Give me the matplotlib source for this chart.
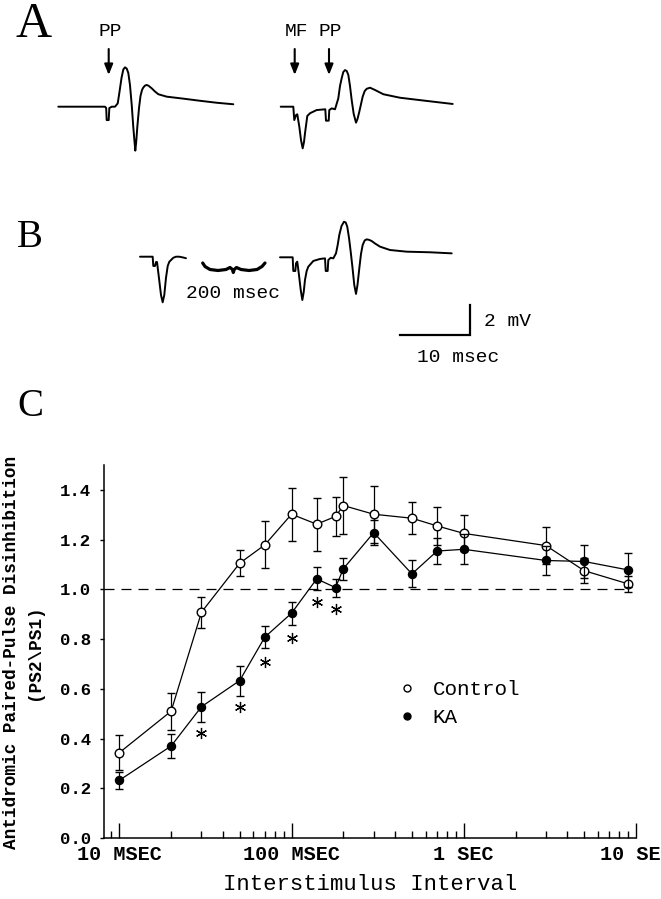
import matplotlib
matplotlib.use("Agg")
import matplotlib.pyplot as plt
from matplotlib.lines import Line2D
from matplotlib.ticker import FixedLocator, NullFormatter
import numpy as np

plt.rcParams['font.family'] = ['Liberation Mono', 'DejaVu Sans Mono']

# ---- panel C data ----
isi_ms = [10, 20, 30, 50, 70, 100, 140, 180, 200, 300, 500, 700, 1000, 3000, 5000, 9000]
control_mean = [0.343, 0.51, 0.908, 1.105, 1.179, 1.302, 1.262, 1.293, 1.337, 1.302,
                1.286, 1.255, 1.225, 1.176, 1.075, 1.022]
control_sem = [0.07, 0.075, 0.062, 0.052, 0.094, 0.107, 0.107, 0.078, 0.115, 0.115,
               0.065, 0.075, 0.072, 0.076, 0.05, 0.033]
ka_mean = [0.232, 0.37, 0.528, 0.633, 0.808, 0.904, 1.042, 1.007, 1.083, 1.228,
           1.062, 1.154, 1.161, 1.116, 1.112, 1.078]
ka_sem = [0.035, 0.05, 0.06, 0.06, 0.045, 0.047, 0.046, 0.036, 0.045, 0.05,
          0.054, 0.053, 0.06, 0.058, 0.067, 0.07]
sig_ms = [30, 50, 70, 100, 140, 180]
sig_y = [0.424, 0.526, 0.706, 0.803, 0.95, 0.921]

xtick_ms = [10, 100, 1000, 10000]
xtick_labels = ["10 MSEC", "100 MSEC", "1 SEC", "10 SEC"]
xminor_ms = [9] + [k * 10 for k in range(2, 10)] + [k * 100 for k in range(2, 10)] + [k * 1000 for k in range(2, 10)]
ytick_vals = [0.0, 0.2, 0.4, 0.6, 0.8, 1.0, 1.2, 1.4]

a1_t = [0, 6.67, 6.84, 6.91, 7.20, 7.29, 7.63, 8.10, 8.49, 8.74, 9.03, 9.29, 9.53, 9.77, 10.0,
        10.24, 10.49, 10.71, 10.89, 11.0, 11.13, 11.29, 11.53, 11.74, 11.96, 12.14, 12.39,
        12.63, 12.89, 13.34, 13.81, 14.29, 15.49, 17.86, 20.24, 22.63, 25.0]
a1_v = [0, 0, -0.09, -0.88, -0.88, -0.09, 0, 0, 0.22, 0.97, 1.89, 2.45, 2.59, 2.51, 2.22,
        1.43, 0.11, -1.32, -2.32, -2.89, -2.32, -1.32, -0.09, 0.70, 1.10, 1.26, 1.39,
        1.43, 1.38, 1.21, 1.0, 0.82, 0.66, 0.53, 0.39, 0.26, 0.16]

a2_t = [0, 1.80, 1.94, 2.19, 2.37, 2.66, 2.90, 3.14, 3.33, 3.47, 3.80, 4.19, 5.14, 6.37, 6.47,
        6.86, 6.94, 7.29, 7.76, 8.23, 8.47, 8.71, 8.94, 9.19, 9.43, 9.66, 9.90, 10.14, 10.43,
        10.76, 10.97, 11.23, 11.71, 12.0, 12.29, 12.76, 13.47, 14.66, 17.04, 20.86, 24.57]
a2_v = [0, 0, -0.88, -0.55, -0.50, -1.32, -2.19, -2.74, -2.32, -1.75, -0.61, -0.43, -0.22, -0.17, -0.92,
        -0.92, -0.22, -0.11, -0.17, 0.55, 1.36, 1.87, 2.28, 2.41, 2.35, 2.09, 1.36, 0.44, -0.48,
        -1.05, -0.81, -0.33, 0.66, 1.03, 1.18, 1.25, 1.10, 0.82, 0.59, 0.38, 0.18]

b1_t = [0, 1.81, 1.90, 2.14, 2.29, 2.43, 2.71, 3.0, 3.24, 3.47, 3.71, 3.96, 4.19, 4.76, 5.14,
        5.61, 6.14, 6.57]
b1_v = [0, 0, -0.61, -0.61, -0.35, -0.35, -1.40, -2.52, -3.0, -2.52, -1.40, -0.61, -0.33, -0.07, 0,
        0, -0.05, -0.1]

b2_t = [0, 1.81, 1.90, 2.19, 2.29, 2.47, 2.71, 2.96, 3.19, 3.39, 3.57, 3.81, 4.04, 4.76, 5.71,
        6.43, 6.53, 6.81, 6.90, 7.24, 7.61, 8.0, 8.24, 8.47, 8.79, 9.14, 9.39, 9.61, 9.86, 10.10,
        10.36, 10.61, 10.86, 11.07, 11.33, 11.57, 11.81, 12.10, 12.39, 12.71, 13.10, 13.57,
        14.29, 15.71, 18.1, 21.43, 24.53]
b2_v = [0, 0, -0.90, -0.90, -0.39, -0.29, -1.16, -2.15, -2.81, -2.28, -1.49, -0.90, -0.62, -0.24, -0.11,
        -0.07, -0.90, -0.90, -0.18, -0.03, -0.07, 0.26, 0.81, 1.47, 2.06, 2.34, 2.29, 2.01, 1.27, 0.37,
        -0.70, -1.82, -2.41, -1.82, -0.72, 0.22, 0.81, 1.11, 1.18, 1.15, 1.07, 0.91,
        0.70, 0.48, 0.37, 0.33, 0.26]

PX_PER_MS = 7.0
PX_PER_MV = 15.2

fig = plt.figure(figsize=(6.61, 8.99), dpi=100)

# overlay axes in pixel units for panels A and B and the lettering
ax0 = fig.add_axes([0, 0, 1, 1])
ax0.set_xlim(0, 661)
ax0.set_ylim(899, 0)
ax0.axis('off')


def draw_trace(t, v, x0, y0):
    ax0.plot(x0 + np.array(t) * PX_PER_MS, y0 - np.array(v) * PX_PER_MV,
             color='k', lw=1.4, solid_joinstyle='round', solid_capstyle='round')


def stim_arrow(x, label=None):
    ax0.annotate("", xy=(x, 75), xytext=(x, 49),
                 arrowprops=dict(arrowstyle='-|>,head_length=0.45,head_width=0.18',
                                 lw=1.5, color='k', shrinkA=0, shrinkB=0,
                                 mutation_scale=14))
    if label:
        ax0.text(x + 1.5, 32, label, ha='center', va='center', fontsize=14)


letter_kw = dict(family='Liberation Serif', ha='left', va='baseline')
ax0.text(15, 37, "A", fontsize=36, **letter_kw)
ax0.text(17, 247, "B", fontsize=28, **letter_kw)
ax0.text(17, 416, "C", fontsize=28, **letter_kw)

# panel A
draw_trace(a1_t, a1_v, 58.3, 106.7)
draw_trace(a2_t, a2_v, 280.7, 106.7)
stim_arrow(108.7, "PP")
stim_arrow(294.7, "MF")
stim_arrow(329.0, "PP")

# panel B
draw_trace(b1_t, b1_v, 140, 256.7)
draw_trace(b2_t, b2_v, 280, 257.3)
brace_x = [202.7, 205, 210, 218, 226, 230, 232.5, 233.3, 234.2, 236.5, 241, 249, 257, 262, 265]
brace_y = [263, 266.5, 269.5, 270.5, 269.5, 267.5, 269.5, 272.5, 269.5, 267.5, 269.5, 270.5, 269.5, 266.5, 263]
ax0.plot(brace_x, brace_y, color='k', lw=2.3, solid_joinstyle='round', solid_capstyle='round')
ax0.text(232.5, 294, "200 msec", ha='center', va='center', fontsize=14)

# scale bar: 10 msec x 2 mV
bar_x, bar_y = 470, 335.4
ax0.plot([bar_x - 10 * PX_PER_MS, bar_x, bar_x], [bar_y, bar_y, bar_y - 2 * PX_PER_MV],
         color='k', lw=1.6, solid_joinstyle='miter')
ax0.text(484, 322, "2 mV", ha='left', va='center', fontsize=14)
ax0.text(458, 358, "10 msec", ha='center', va='center', fontsize=14)

# ---- panel C ----
axc = fig.add_axes([104 / 661, 1 - 838 / 899, (636 - 104) / 661, (838 - 465) / 899])
axc.set_xscale('log')

axc.axhline(1.0, xmin=0, xmax=0.99, color='k', lw=0.9, dashes=(8, 5.6), zorder=1)

axc.errorbar(isi_ms, control_mean, yerr=control_sem, fmt='o-', color='k', lw=0.9,
             mfc='white', mec='k', ms=6.2, mew=1.0, elinewidth=0.9, capsize=3, capthick=0.9,
             zorder=3)
axc.errorbar(isi_ms, ka_mean, yerr=ka_sem, fmt='o-', color='k', lw=0.9,
             mfc='k', mec='k', ms=5.8, mew=1.0, elinewidth=0.9, capsize=3, capthick=0.9,
             zorder=4)
axc.plot(sig_ms, sig_y, linestyle='none', marker=(6, 2, 0), ms=8, mew=0.9, color='k', zorder=4)

axc.set_xlim(8.15, 10000)
axc.set_ylim(0, 1.5)
for side in ('top', 'right'):
    axc.spines[side].set_visible(False)
for side in ('left', 'bottom'):
    axc.spines[side].set_linewidth(1.1)

axc.xaxis.set_major_locator(FixedLocator(xtick_ms))
axc.set_xticklabels(xtick_labels, fontsize=14.5, fontweight='bold')
axc.xaxis.set_minor_locator(FixedLocator(xminor_ms))
axc.xaxis.set_minor_formatter(NullFormatter())
axc.tick_params(axis='x', which='major', direction='in', length=10.5, width=1.0, pad=5)
axc.tick_params(axis='x', which='minor', direction='in', length=4.7, width=1.0)

axc.set_yticks(ytick_vals)
axc.set_yticklabels([f"{v:.1f}" for v in ytick_vals], fontsize=12.5, fontweight='bold')
axc.tick_params(axis='y', direction='out', length=3, width=1.0, pad=6.5)

axc.set_xlabel("Interstimulus Interval", fontsize=16, labelpad=7)
ax0.text(23, 652, "Antidromic Paired-Pulse Disinhibition\n(PS2\\PS1)", rotation=90,
         ha='center', va='center', multialignment='center', fontsize=12.8,
         fontweight='bold', linespacing=1.45)

handles = [Line2D([], [], linestyle='none', marker='o', ms=5, mfc='white', mec='k', mew=1.0),
           Line2D([], [], linestyle='none', marker='o', ms=5, mfc='k', mec='k', mew=1.0)]
axc.legend(handles, ["Control", "KA"], loc='upper left', bbox_to_anchor=(0.5506, 0.424),
           frameon=False, fontsize=15, handlelength=1.0, handletextpad=0.72,
           borderpad=0, borderaxespad=0, labelspacing=0.45)

fig.savefig("out.png", dpi=100)
